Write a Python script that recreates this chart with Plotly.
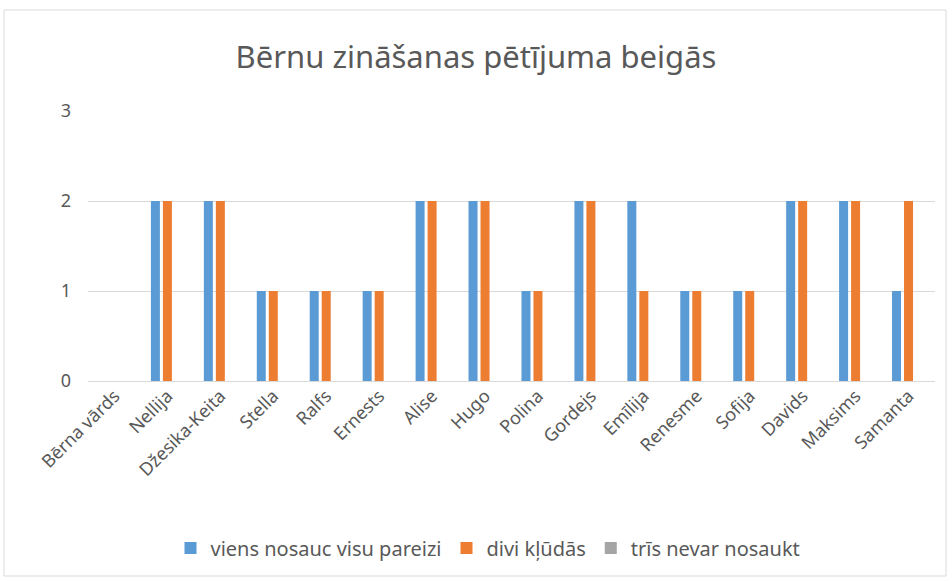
import plotly.graph_objects as go

categories = ["Bērna vārds", "Nellija", "Džesika-Keita", "Stella", "Ralfs", "Ernests", "Alise",
              "Hugo", "Polina", "Gordejs", "Emīlija", "Renesme", "Sofija", "Davids", "Maksims", "Samanta"]
viens = [None, 2, 2, 1, 1, 1, 2, 2, 1, 2, 2, 1, 1, 2, 2, 1]
divi = [None, 2, 2, 1, 1, 1, 2, 2, 1, 2, 1, 1, 1, 2, 2, 2]
tris = [None] * 16
series_names = ["viens nosauc visu pareizi", "divi kļūdās", "trīs nevar nosaukt"]
colors = ["#5B9BD5", "#ED7D31", "#A5A5A5"]
y_ticks = [0, 1, 2, 3]

FONT = "Noto Sans"
TXT = "#595959"

fig = go.Figure()
for name, vals, c in zip(series_names, [viens, divi, tris], colors):
    fig.add_trace(go.Bar(x=categories, y=vals, name=name, marker_color=c, marker_line_width=0))

W, H = 952, 581
L, R, T, B = 88, 17, 111, 200
pw, ph = W - L - R, H - T - B

def px(x):
    return (x - L) / pw

def py(y):
    return (H - B - y) / ph

fig.update_layout(
    width=W, height=H,
    margin=dict(l=L, r=R, t=T, b=B),
    paper_bgcolor="white", plot_bgcolor="white",
    barmode="group", bargap=0.32, bargroupgap=0.25,
    font=dict(family=FONT, color=TXT, size=16),
    title=dict(text="Bērnu zināšanas pētījuma beigās", x=0.5, xanchor="center",
               y=1 - 57 / H, yanchor="middle", font=dict(size=31, color=TXT, family=FONT)),
    xaxis=dict(tickangle=-45, showgrid=False, showline=False, ticks="",
               tickfont=dict(size=18, color=TXT)),
    yaxis=dict(range=[0, 3], tickvals=y_ticks, showgrid=True, gridcolor="#D9D9D9", gridwidth=1,
               zeroline=True, zerolinecolor="#D9D9D9", zerolinewidth=1, showline=False,
               ticklabelstandoff=16, tickfont=dict(size=18, color=TXT)),
    legend=dict(orientation="h", x=px(488), xanchor="center", y=py(548), yanchor="middle",
                font=dict(size=20, color=TXT), itemwidth=30, traceorder="normal"),
    shapes=[dict(type="rect", xref="paper", yref="paper",
                 x0=px(4), x1=px(946), y0=py(576), y1=py(10),
                 line=dict(color="#D9D9D9", width=1), fillcolor="rgba(0,0,0,0)", layer="below")],
)

fig.write_html("out.html", config={"displayModeBar": False})

with open("out.html", "r", encoding="utf-8") as f:
    html = f.read()
html = html.replace("<head>", "<head><style>html,body{margin:0;padding:0;overflow:hidden}</style>", 1)
with open("out.html", "w", encoding="utf-8") as f:
    f.write(html)
